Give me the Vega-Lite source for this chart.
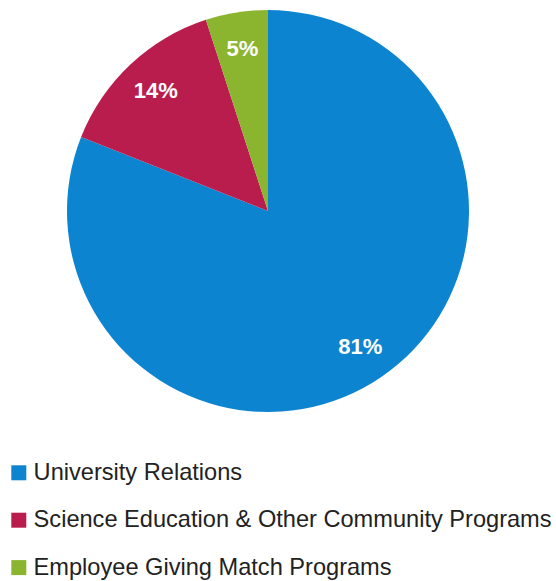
{
  "$schema": "https://vega.github.io/schema/vega-lite/v6.json",
  "width": 536,
  "height": 422,
  "autosize": {"type": "none"},
  "padding": {"left": 0, "top": 0, "right": 20, "bottom": 159},
  "background": "white",
  "view": {"stroke": null},
  "data": {
    "values": [
      {"category": "University Relations", "share": 81, "label": "81%", "order": 1},
      {"category": "Science Education & Other Community Programs", "share": 14, "label": "14%", "order": 2},
      {"category": "Employee Giving Match Programs", "share": 5, "label": "5%", "order": 3}
    ]
  },
  "encoding": {
    "theta": {"field": "share", "type": "quantitative", "stack": true},
    "order": {"field": "order", "type": "quantitative"}
  },
  "layer": [
    {
      "mark": {"type": "arc", "outerRadius": 201},
      "encoding": {
        "color": {
          "field": "category",
          "type": "nominal",
          "sort": ["University Relations", "Science Education & Other Community Programs", "Employee Giving Match Programs"],
          "scale": {
            "domain": ["University Relations", "Science Education & Other Community Programs", "Employee Giving Match Programs"],
            "range": ["#0d84d0", "#b81d4e", "#8bb52e"]
          },
          "legend": {
            "orient": "none",
            "legendX": 7,
            "legendY": 461,
            "title": null,
            "symbolType": "square",
            "symbolSize": 225,
            "symbolStrokeWidth": 0,
            "labelFont": "Liberation Sans",
            "labelFontSize": 23.6,
            "labelColor": "#222222",
            "labelOffset": 3,
            "labelLimit": 600,
            "rowPadding": 22.4
          }
        }
      }
    },
    {
      "mark": {"type": "text", "radius": 164, "font": "Liberation Sans", "fontWeight": "bold", "fontSize": 22, "color": "white"},
      "encoding": {"text": {"field": "label"}}
    }
  ]
}
